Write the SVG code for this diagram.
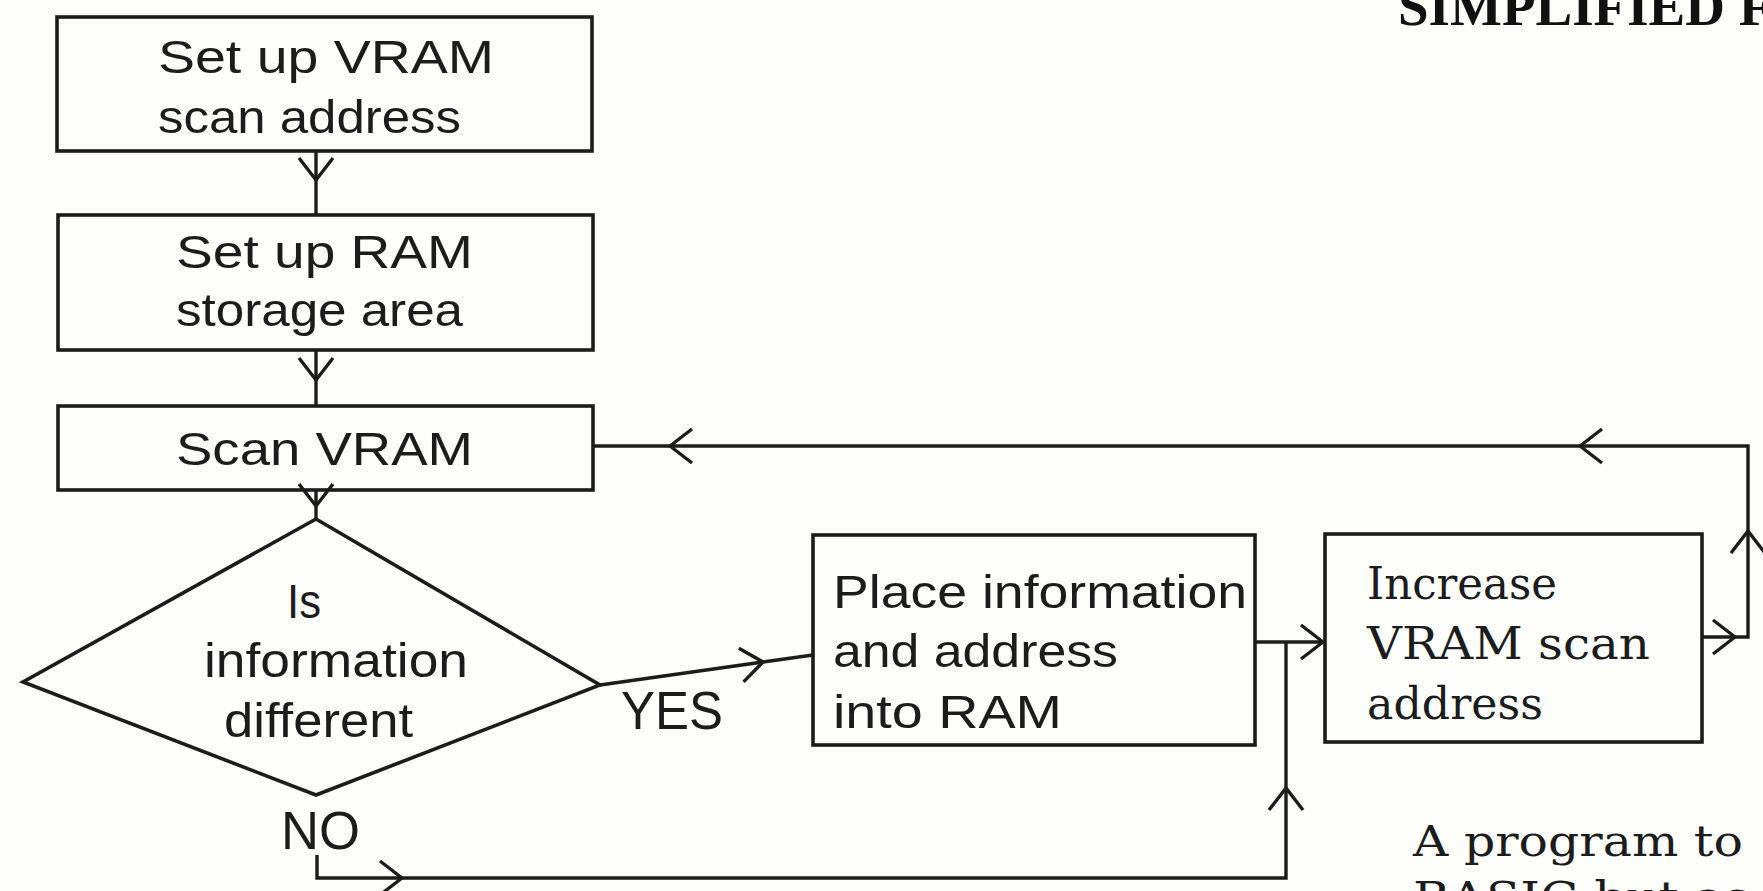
<svg xmlns="http://www.w3.org/2000/svg" width="1763" height="891" viewBox="0 0 1763 891">
<style>
.bg{fill:#fdfdfc}
.box{fill:none;stroke:#1c1c1c;stroke-width:3.6}
.ln{fill:none;stroke:#1c1c1c;stroke-width:3.4}
.arr{marker-end:url(#v)}
.t{font-family:"Liberation Sans",Arial,sans-serif;font-size:46px;fill:#1c1c1c}
.s{font-family:"DejaVu Serif","Liberation Serif",serif;font-size:45px;fill:#1c1c1c}
.d{font-family:"Liberation Sans",Arial,sans-serif;font-size:49px;fill:#1c1c1c}
.lbl{font-family:"Liberation Sans",Arial,sans-serif;font-size:53px;fill:#1c1c1c}
.ttl{font-family:"Liberation Serif","Times New Roman",serif;font-size:55px;font-weight:bold;fill:#111}
.note{font-family:"DejaVu Serif","Liberation Serif",serif;font-size:43px;fill:#1c1c1c}
</style>
<defs>
<marker id="v" markerUnits="userSpaceOnUse" viewBox="-30 -20 32 40" markerWidth="32" markerHeight="40" refX="0" refY="0" orient="auto">
<path d="M-22,-17 L0,0 L-22,17" fill="none" stroke="#1c1c1c" stroke-width="3.4"/>
</marker>
</defs>
<rect class="bg" x="0" y="0" width="1763" height="891"/>

<g id="title">
<text class="ttl" x="1398" y="25">SIMPLIFIED F</text>
</g>

<g id="n1">
<rect class="box" x="57" y="17" width="535" height="134"/>
<text class="t" x="158" y="73" textLength="336" lengthAdjust="spacingAndGlyphs">Set up VRAM</text>
<text class="t" x="158" y="133" textLength="303" lengthAdjust="spacingAndGlyphs">scan address</text>
</g>

<g id="n2">
<rect class="box" x="58" y="215" width="535" height="135"/>
<text class="t" x="176" y="268" textLength="297" lengthAdjust="spacingAndGlyphs">Set up RAM</text>
<text class="t" x="176" y="326" textLength="287" lengthAdjust="spacingAndGlyphs">storage area</text>
</g>

<g id="n3">
<rect class="box" x="58" y="406" width="535" height="84"/>
<text class="t" x="176" y="465" textLength="297" lengthAdjust="spacingAndGlyphs">Scan VRAM</text>
</g>

<g id="n4">
<polygon class="box" points="316,519 600,685 316,795 23,682"/>
<text class="d" x="287" y="618" textLength="34" lengthAdjust="spacingAndGlyphs">Is</text>
<text class="d" x="204" y="677" textLength="264" lengthAdjust="spacingAndGlyphs">information</text>
<text class="d" x="224" y="737" textLength="189" lengthAdjust="spacingAndGlyphs">different</text>
</g>

<g id="n5">
<rect class="box" x="813" y="535" width="442" height="210"/>
<text class="t" x="833" y="608" textLength="414" lengthAdjust="spacingAndGlyphs">Place information</text>
<text class="t" x="833" y="667" textLength="285" lengthAdjust="spacingAndGlyphs">and address</text>
<text class="t" x="833" y="728" textLength="229" lengthAdjust="spacingAndGlyphs">into RAM</text>
</g>

<g id="n6">
<rect class="box" x="1325" y="534" width="377" height="208"/>
<text class="s" x="1367" y="599" textLength="190" lengthAdjust="spacingAndGlyphs">Increase</text>
<text class="s" x="1367" y="659" textLength="283" lengthAdjust="spacingAndGlyphs">VRAM scan</text>
<text class="s" x="1367" y="719" textLength="176" lengthAdjust="spacingAndGlyphs">address</text>
</g>

<g id="connectors">
<path class="ln arr" d="M316,151 L316,180"/>
<path class="ln" d="M316,180 L316,215"/>
<path class="ln arr" d="M316,350 L316,380"/>
<path class="ln" d="M316,380 L316,406"/>
<path class="ln arr" d="M316,490 L316,506"/>
<path class="ln" d="M316,506 L316,519"/>
<path class="ln arr" d="M600,685 L763,662"/>
<path class="ln" d="M763,662 L813,655"/>
<path class="ln arr" d="M1255,642 L1323,642"/>
<path class="ln arr" d="M1702,637 L1735,637"/>
<path class="ln arr" d="M1735,637 L1748,637 L1748,531"/>
<path class="ln arr" d="M1748,531 L1748,446 L1580,446"/>
<path class="ln arr" d="M1580,446 L670,446"/>
<path class="ln" d="M670,446 L593,446"/>
<path class="ln arr" d="M317,855 L317,878 L402,878"/>
<path class="ln arr" d="M402,878 L1286,878 L1286,788"/>
<path class="ln" d="M1286,788 L1286,642"/>
</g>

<g id="labels">
<text class="lbl" x="621" y="729" textLength="102" lengthAdjust="spacingAndGlyphs">YES</text>
<text class="lbl" x="281" y="849" textLength="79" lengthAdjust="spacingAndGlyphs">NO</text>
<text class="note" x="1413" y="856" textLength="330" lengthAdjust="spacingAndGlyphs">A program to</text>
<text class="note" x="1413" y="912" textLength="337" lengthAdjust="spacingAndGlyphs">BASIC but as</text>
</g>
</svg>
